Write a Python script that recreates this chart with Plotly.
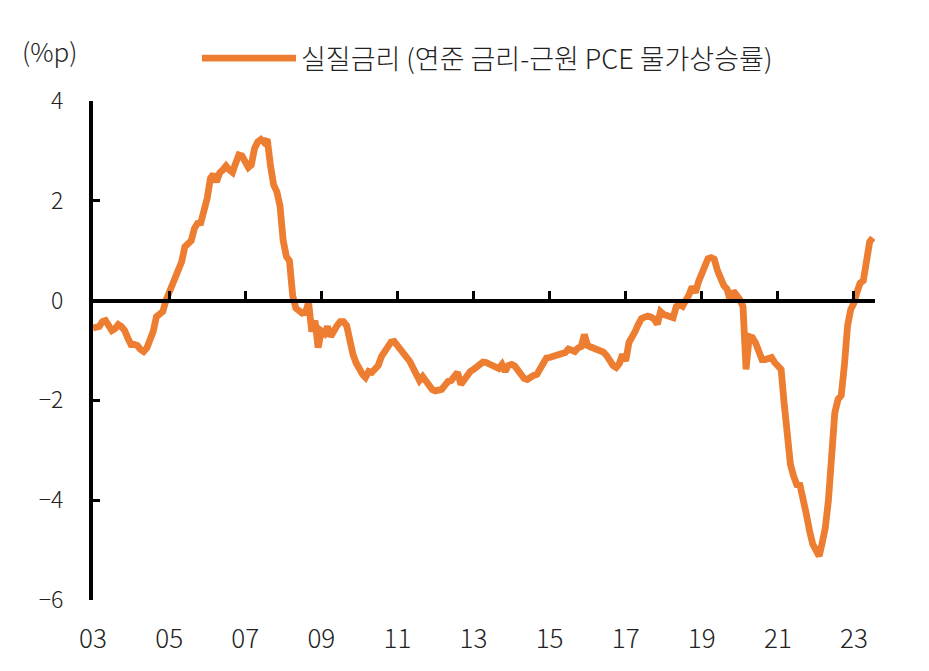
import plotly.graph_objects as go
import pandas as pd

y2003 = [-0.55, -0.54, -0.52, -0.42, -0.40, -0.50, -0.60, -0.56, -0.48, -0.52, -0.60, -0.75]
y2004 = [-0.88, -0.88, -0.90, -0.98, -1.02, -0.95, -0.82, -0.62, -0.32, -0.25, -0.22, 0.00]
y2005 = [0.15, 0.32, 0.45, 0.60, 0.78, 1.08, 1.15, 1.20, 1.45, 1.55, 1.56, 1.80]
y2006 = [2.05, 2.45, 2.53, 2.38, 2.56, 2.62, 2.70, 2.62, 2.57, 2.75, 2.92, 2.90]
y2007 = [2.80, 2.67, 2.72, 3.05, 3.18, 3.23, 3.17, 3.23, 2.70, 2.32, 2.18, 1.90]
y2008 = [1.20, 0.88, 0.80, 0.10, -0.15, -0.22, -0.25, -0.24, -0.04, -0.62, -0.40, -0.94]
y2009 = [-0.61, -0.66, -0.52, -0.72, -0.58, -0.50, -0.42, -0.42, -0.50, -0.88, -1.08, -1.25]
y2010 = [-1.40, -1.48, -1.54, -1.42, -1.44, -1.38, -1.30, -1.12, -1.00, -0.88, -0.83, -0.82]
y2011 = [-0.90, -0.98, -1.08, -1.15, -1.22, -1.35, -1.45, -1.60, -1.52, -1.62, -1.72, -1.78]
y2012 = [-1.81, -1.80, -1.78, -1.70, -1.62, -1.60, -1.50, -1.44, -1.68, -1.58, -1.50, -1.42]
y2013 = [-1.38, -1.34, -1.30, -1.23, -1.24, -1.27, -1.30, -1.36, -1.36, -1.28, -1.42, -1.30]
y2014 = [-1.28, -1.31, -1.40, -1.52, -1.56, -1.58, -1.53, -1.50, -1.48, -1.35, -1.22, -1.15]
y2015 = [-1.14, -1.12, -1.11, -1.08, -1.06, -1.04, -0.97, -1.00, -1.02, -0.95, -0.92, -0.68]
y2016 = [-0.90, -0.93, -0.95, -0.99, -1.01, -1.03, -1.10, -1.22, -1.30, -1.34, -1.26, -1.08]
y2017 = [-1.21, -0.84, -0.76, -0.62, -0.48, -0.36, -0.33, -0.31, -0.33, -0.37, -0.47, -0.22]
y2018 = [-0.28, -0.31, -0.31, -0.34, -0.12, -0.07, -0.11, -0.02, 0.12, 0.28, 0.16, 0.38]
y2019 = [0.55, 0.77, 0.84, 0.86, 0.83, 0.60, 0.45, 0.30, 0.23, 0.00, 0.19, 0.12]
y2020 = [0.02, -0.12, -1.38, -0.72, -0.74, -0.85, -0.98, -1.18, -1.18, -1.16, -1.14, -1.24]
y2021 = [-1.32, -1.38, -2.04, -2.78, -3.28, -3.52, -3.69, -3.70, -3.95, -4.28, -4.62, -4.88]
y2022 = [-5.00, -5.12, -4.87, -4.55, -4.00, -3.05, -2.25, -1.98, -1.90, -1.30, -0.50, -0.18]
y2023 = [-0.05, 0.18, 0.35, 0.40, 0.85, 1.18, 1.26]

real_rate = (y2003 + y2004 + y2005 + y2006 + y2007 + y2008 + y2009 + y2010 + y2011
             + y2012 + y2013 + y2014 + y2015 + y2016 + y2017 + y2018 + y2019 + y2020
             + y2021 + y2022 + y2023)
dates = pd.date_range("2003-01-01", periods=len(real_rate), freq="MS")

tick_years = [2003, 2005, 2007, 2009, 2011, 2013, 2015, 2017, 2019, 2021, 2023]
tick_labels = ["03", "05", "07", "09", "11", "13", "15", "17", "19", "21", "23"]
tick_dates = [f"{y}-01-01" for y in tick_years]
y_ticks = [-6, -4, -2, 0, 2, 4]

series_name = "실질금리 (연준 금리-근원 PCE 물가상승률)"
unit_label = "(%p)"

ORANGE = "#ED7D31"
FONT = "Noto Sans CJK KR"
TXT = "#222222"
x_range = ["2003-01-01", "2023-07-22"]

# page body has an 8px margin, so the figure is sized to end at the window edge
W, H = 921, 663

fig = go.Figure()
fig.add_trace(go.Scatter(
    x=dates, y=real_rate, mode="lines", name=series_name,
    line=dict(color=ORANGE, width=6.8),
))

fig.update_layout(
    width=W, height=H,
    margin=dict(l=85, r=54, t=93, b=71, autoexpand=False),
    paper_bgcolor="white", plot_bgcolor="white",
    font=dict(family=FONT, color=TXT, weight=300),
    showlegend=True,
    legend=dict(
        orientation="h", xref="container", yref="container",
        x=189 / W, y=1 - 26 / H, xanchor="left", yanchor="top",
        font=dict(size=27, family=FONT, color=TXT, weight=300),
        itemwidth=94, bgcolor="rgba(0,0,0,0)",
    ),
    xaxis=dict(
        type="date", range=x_range,
        tickvals=tick_dates, ticktext=tick_labels,
        showline=False, ticks="", showgrid=False, zeroline=False,
        tickfont=dict(size=26, family=FONT, color=TXT, weight=300),
        ticklabelstandoff=21,
    ),
    xaxis2=dict(
        type="date", range=x_range, overlaying="x", anchor="free", position=0.6,
        side="bottom",
        tickvals=tick_dates, showticklabels=False,
        showline=True, linecolor="black", linewidth=4,
        ticks="inside", ticklen=8, tickwidth=3, tickcolor="black",
        showgrid=False, zeroline=False,
    ),
    yaxis=dict(
        range=[-6, 4], tickvals=y_ticks,
        showline=True, linecolor="black", linewidth=4,
        ticks="inside", ticklen=7, tickwidth=3, tickcolor="black",
        showgrid=False, zeroline=False,
        tickfont=dict(size=23, family=FONT, color=TXT, weight=300),
        ticklabelstandoff=21,
    ),
    annotations=[dict(
        text=unit_label, xref="paper", yref="paper",
        x=(12 - 85) / 782, y=1 + 51 / 499, xanchor="left", yanchor="middle",
        showarrow=False, font=dict(size=26, family=FONT, color=TXT, weight=300),
    )],
)

# invisible trace to attach the zero-line axis
fig.add_trace(go.Scatter(x=[dates[0]], y=[0], xaxis="x2", mode="markers",
                         marker=dict(opacity=0), showlegend=False, hoverinfo="skip"))

fig.write_html("out.html")
